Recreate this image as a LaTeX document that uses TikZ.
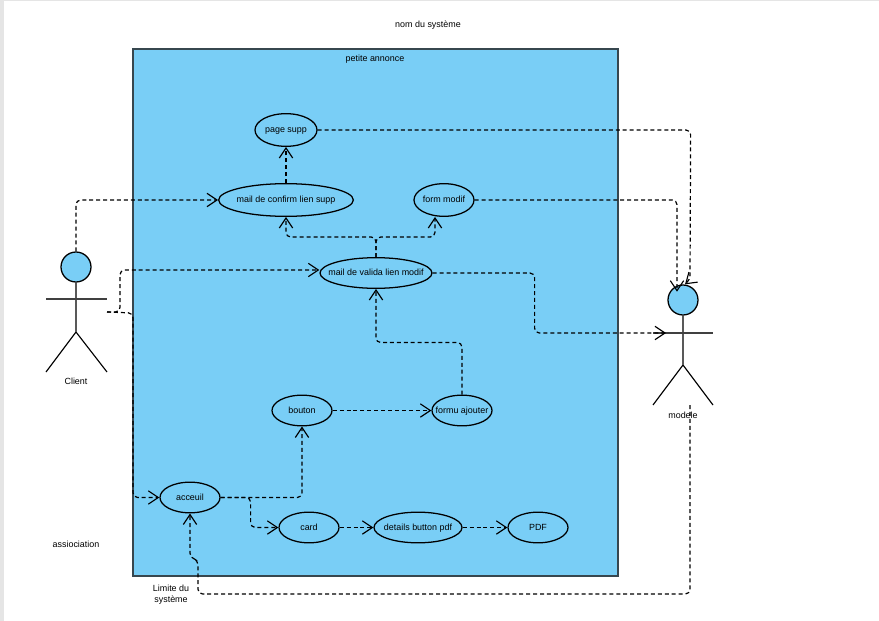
\documentclass[tikz,border=0pt]{standalone}
\usepackage{fontspec}
\setmainfont{Liberation Sans}
\usetikzlibrary{arrows.meta,shapes.geometric}
\definecolor{sysblue}{HTML}{79CEF6}
\definecolor{sysline}{HTML}{37474F}
\newcommand{\uclabel}[1]{\makebox[0pt]{#1}}
\tikzset{
  usecase/.style={draw=black, ellipse, fill=sysblue, line width=0.95pt, inner sep=0pt,
    text height=5.8pt, text depth=1.4pt},
  limb/.style={draw=black, line width=0.85pt},
  head/.style={draw=black, circle, fill=sysblue, line width=0.95pt, inner sep=0pt, minimum size=22.5pt},
  dep/.style={black, line width=0.9pt, dash pattern=on 3pt off 2.2pt, rounded corners=3.5pt,
    -{Straight Barb[length=7.5pt,width=10pt,line width=0.85pt]}},
  lbl/.style={inner sep=0pt, align=center, font=\fontsize{6.7}{8.4}\selectfont}
}
\begin{document}
\begin{tikzpicture}[x=0.75pt, y=-0.75pt, font=\fontsize{6.7}{8.4}\selectfont]
  \useasboundingbox (0,0) rectangle (879,621);
  % page edge
  \fill[gray!20] (0,0) rectangle (879,1);
  \fill[gray!20] (0,0) rectangle (3.5,621);

  % system boundary
  \node[draw=sysline, fill=sysblue, line width=1.1pt, minimum width=363.75pt, minimum height=395.25pt,
    inner sep=0pt] (systeme) at (375.5,312.5) {};
  \node[lbl] (nomsysteme) at (428,25) {nom du système};
  \node[lbl] (petite) at (375,59) {petite annonce};
  \node[lbl] (limite) at (171,594.5) {Limite du\\système};
  \node[lbl] (assoc) at (76,544) {assiociation};

  % actors
  \node[head] (clienthead) at (76,267) {};
  \draw[limb] (clienthead.south) -- (76,332) -- (46,372) (76,332) -- (107,372);
  \draw[limb, draw=black!75] (46,299) -- (107,299);
  \node[lbl] (client) at (76,381.5) {Client};
  \coordinate (clienthand) at (107,312);

  \node[head] (modelehead) at (683,300) {};
  \draw[limb] (modelehead.south) -- (683,365) -- (653,405) (683,365) -- (713,405);
  \draw[limb, draw=black!75] (653,333) -- (713,333);
  \node[lbl] (modele) at (683,415) {modele};
  \coordinate (modelefoot) at (690,405);
  \coordinate (modelearm) at (666,333);

  % use cases
  \node[usecase, minimum width=46.5pt, minimum height=24.5pt] (pagesupp) at (286,130) {\uclabel{page supp}};
  \node[usecase, minimum width=101pt, minimum height=24.5pt] (mailconfirm) at (286,200) {\uclabel{mail de confirm lien supp}};
  \node[usecase, minimum width=45pt, minimum height=24.5pt] (formmodif) at (444,200) {\uclabel{form modif}};
  \node[usecase, minimum width=84pt, minimum height=23pt] (mailvalida) at (376,273) {\uclabel{mail de valida lien modif}};
  \node[usecase, minimum width=45pt, minimum height=23pt] (bouton) at (302,410.5) {\uclabel{bouton}};
  \node[usecase, minimum width=45pt, minimum height=23pt] (formu) at (462,410.5) {\uclabel{formu ajouter}};
  \node[usecase, minimum width=45pt, minimum height=23pt] (acceuil) at (190,497.5) {\uclabel{acceuil}};
  \node[usecase, minimum width=45pt, minimum height=23pt] (card) at (309,527.5) {\uclabel{card}};
  \node[usecase, minimum width=66pt, minimum height=23pt] (details) at (418,527.5) {\uclabel{details button pdf}};
  \node[usecase, minimum width=45pt, minimum height=23pt] (pdf) at (538,527.5) {\uclabel{PDF}};

  % client links
  \draw[dep] (clienthead.north) |- (mailconfirm.west);
  \draw[dep] (clienthand) -- ++(13,0) |- ([yshift=2.25pt]mailvalida.west);
  \draw[dep] (clienthand) -- ++(26,1) |- (acceuil.west);

  % upper part
  \draw[dep] (mailconfirm.north) -- (pagesupp.south);
  \draw[dep] (mailvalida.north) -- ++(0,-20) -| (mailconfirm.south);
  \draw[dep] (mailvalida.north) -- ++(0,-20) -| ([xshift=-6.75pt]formmodif.south);
  \draw[dep] (pagesupp.east) -- ++(373,0) -- (690,280) -- ([xshift=1.5pt,yshift=0pt]modelehead.north);
  \draw[dep] (formmodif.east) -| ([xshift=-4.5pt,yshift=-5.5pt]modelehead.north);
  \draw[dep] (mailvalida.east) -- ++(102,0) |- (modelearm);

  % lower part
  \draw[dep] (formu.north) |- ++(-86,-52) -- (mailvalida.south);
  \draw[dep] (bouton.east) -- (formu.west);
  \draw[dep] (acceuil.east) -| (bouton.south);
  \draw[dep] (acceuil.east) -- ++(30,0) |- (card.west);
  \draw[dep] (card.east) -- (details.west);
  \draw[dep] (details.east) -- (pdf.west);
  \draw[dep] (modelefoot) |- (198,594) -- (198,560) -- (190,558) -- (acceuil.south);
\end{tikzpicture}
\end{document}
